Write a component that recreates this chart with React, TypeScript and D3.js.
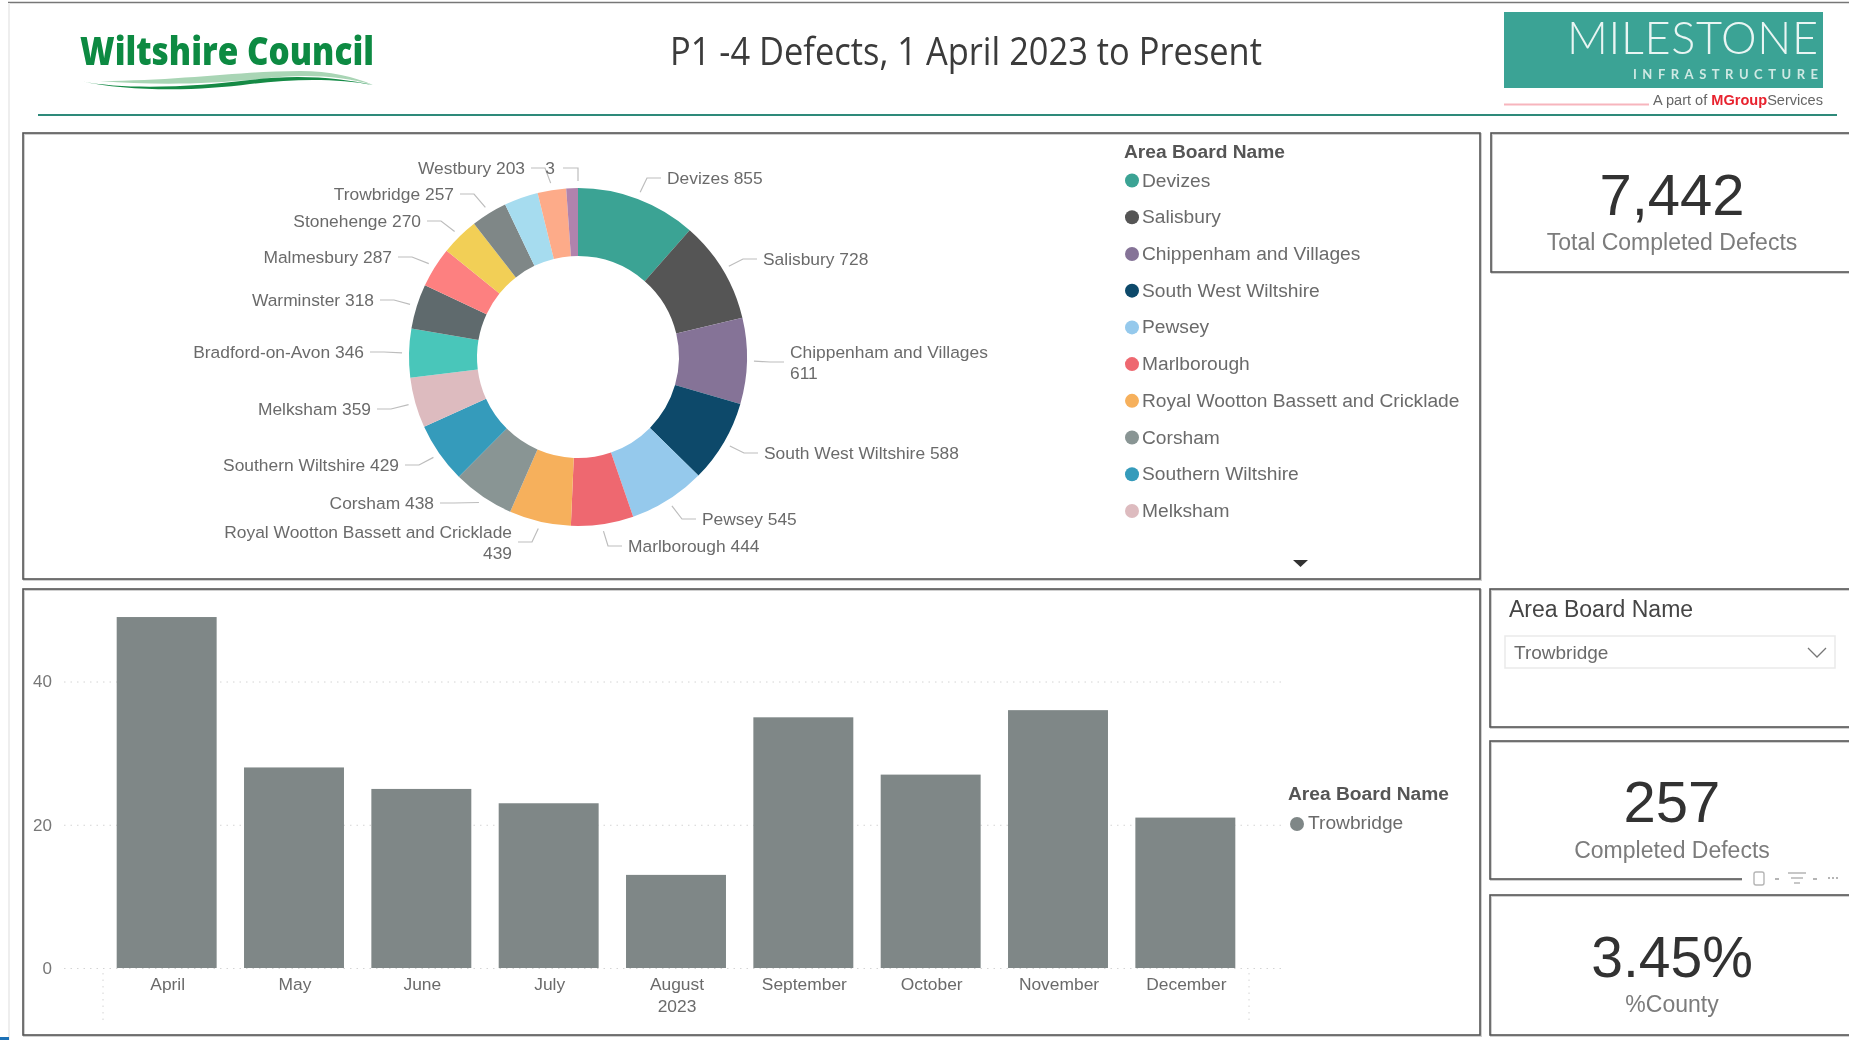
import React, { useEffect, useRef } from "react";
import { arc, axisBottom, axisLeft, line, pie, pointRadial, scaleBand, scaleLinear, scalePoint, select } from "d3";

const legendNames = [
  "Devizes", "Salisbury", "Chippenham and Villages", "South West Wiltshire", "Pewsey", "Marlborough",
  "Royal Wootton Bassett and Cricklade", "Corsham", "Southern Wiltshire", "Melksham",
];
const areaDefects = [855, 728, 611, 588, 545, 444, 439, 438, 429, 359, 346, 318, 287, 270, 257, 242, 203, 83];
const areaColors = [
  "#3aa394", "#555555", "#857397", "#0b4a6b", "#95c9ec", "#ee6870", "#f6b05c", "#899594", "#359bbb",
  "#ddbbbf", "#4ac6ba", "#5f6b6d", "#fd8080", "#f2cf56", "#7f8787", "#a6dcef", "#fdab89", "#b083ad",
];
// the light blue slice has no label in the picture, the purple one is cut down to "3"
const sliceLabels = [
  ["Devizes 855"], ["Salisbury 728"], ["Chippenham and Villages", "611"], ["South West Wiltshire 588"],
  ["Pewsey 545"], ["Marlborough 444"], ["Royal Wootton Bassett and Cricklade", "439"], ["Corsham 438"],
  ["Southern Wiltshire 429"], ["Melksham 359"], ["Bradford-on-Avon 346"], ["Warminster 318"],
  ["Malmesbury 287"], ["Stonehenge 270"], ["Trowbridge 257"], [], ["Westbury 203"], ["3"],
];

const months = ["April", "May", "June", "July", "August", "September", "October", "November", "December"];
const monthDefects = [49, 28, 25, 23, 13, 35, 27, 36, 21];
const yTicks = [0, 20, 40];

// where the donut labels sit: text x, line y
const labelSpots = [
  [667, 178], [763, 259], [790, 362], [764, 453], [702, 519], [628, 546], [512, 542], [434, 503], [399, 465],
  [371, 409], [364, 352], [374, 300], [392, 257], [421, 221], [454, 194], [0, 0], [525, 168], [555, 168],
];

const FONT = "'Liberation Sans', Arial, sans-serif";
const cx = 578;
const cy = 357;
const outerR = 169;
const innerR = 101;

function Panel({ x, y, w, h }: { x: number; y: number; w: number; h: number }) {
  return (
    <g fill="none">
      <rect x={x + 1} y={y + 1} width={w} height={h} stroke="#d0d0d0" strokeWidth={2} />
      <rect x={x} y={y} width={w} height={h} stroke="#555" strokeWidth={1.6} />
    </g>
  );
}

function Card({ value, label, y, labelY, size }: { value: string; label: string; y: number; labelY: number; size: number }) {
  return (
    <g textAnchor="middle">
      <text x={1672} y={y} fontSize={size} fill="#333">{value}</text>
      <text x={1672} y={labelY} fontSize={23} fill="#7b7b7b">{label}</text>
    </g>
  );
}

function App() {
  const donutRef = useRef<SVGGElement>(null);
  const barsRef = useRef<SVGGElement>(null);

  useEffect(() => {
    // donut
    const g = select(donutRef.current);
    g.selectAll("*").remove();
    const slices = pie<number>().sort(null)(areaDefects);
    const sliceArc = arc<any>().innerRadius(innerR).outerRadius(outerR);
    const chart = g.append("g").attr("transform", `translate(${cx},${cy})`);
    chart
      .selectAll("path")
      .data(slices)
      .join("path")
      .attr("d", sliceArc)
      .attr("fill", (_, i) => areaColors[i]);

    const leader = line();
    slices.forEach((s, i) => {
      const lines = sliceLabels[i];
      if (!lines.length) return;
      const last = i === slices.length - 1;
      const mid = last ? s.endAngle : (s.startAngle + s.endAngle) / 2;
      const [px, py] = pointRadial(mid, outerR + 7);
      const start: [number, number] = [px + cx, py + cy];
      const [tx, ty] = labelSpots[i];
      const right = mid < Math.PI && !last;
      const endX = right ? tx - 6 : tx + 6;
      const elbowX = right ? endX - 14 : endX + 14;
      let pts: [number, number][] = [start, [elbowX, ty], [endX, ty]];
      if (last) pts = [start, [start[0], ty], [tx + 8, ty]];
      g.append("path")
        .attr("d", leader(pts))
        .attr("fill", "none")
        .attr("stroke", "#bdbdbd")
        .attr("stroke-width", 1.2);
      const text = g
        .append("text")
        .attr("font-size", 17.4)
        .attr("fill", "#6b6b6b")
        .attr("text-anchor", right ? "start" : "end");
      lines.forEach((t, k) => {
        text
          .append("tspan")
          .attr("x", tx)
          .attr("y", ty + 6 + (k - (lines.length - 1) / 2) * 21)
          .text(t);
      });
    });

    // bars
    const b = select(barsRef.current);
    b.selectAll("*").remove();
    const x = scaleBand().domain(months).range([103, 1249]).paddingInner(0.215).paddingOuter(0.1075);
    const y = scaleLinear().domain([0, 40]).range([968, 681.5]);

    const yAxis = b
      .append("g")
      .attr("transform", "translate(64,0)")
      .call(axisLeft(y).tickValues(yTicks).tickSize(-1219).tickPadding(12).tickFormat((d) => String(d)));
    yAxis.select(".domain").remove();
    yAxis.selectAll("line").attr("stroke", "#d4d4d4").attr("stroke-dasharray", "1.5 5");
    yAxis.selectAll("text").attr("font-family", FONT).attr("font-size", 17).attr("fill", "#777");

    b.selectAll("rect")
      .data(monthDefects)
      .join("rect")
      .attr("x", (_, i) => x(months[i]))
      .attr("y", (d) => y(d))
      .attr("width", x.bandwidth())
      .attr("height", (d) => y(0) - y(d))
      .attr("fill", "#7f8787");

    const xAxis = b
      .append("g")
      .attr("transform", "translate(1,968)")
      .call(axisBottom(x).tickSize(0).tickPadding(10));
    xAxis.select(".domain").remove();
    xAxis.selectAll("text").attr("font-family", FONT).attr("font-size", 17.4).attr("fill", "#6b6b6b");

    // year group under the months, with its dotted separators
    b.append("text")
      .attr("x", (x("August") as number) + x.bandwidth() / 2 + 1)
      .attr("y", 1012)
      .attr("text-anchor", "middle")
      .attr("font-size", 17.4)
      .attr("fill", "#6b6b6b")
      .text("2023");
    b.selectAll(".sep")
      .data(x.range())
      .join("line")
      .attr("class", "sep")
      .attr("x1", (d) => d)
      .attr("x2", (d) => d)
      .attr("y1", 973)
      .attr("y2", 1020)
      .attr("stroke", "#d4d4d4")
      .attr("stroke-dasharray", "1.5 5");
  }, []);

  const legendY = scalePoint<number>()
    .domain(legendNames.map((_, i) => i))
    .range([180.5, 511]);

  return (
    <svg
      width={1849}
      height={1040}
      style={{ position: "absolute", left: 0, top: 0, display: "block", background: "#fff" }}
      fontFamily={FONT}
    >
      <defs>
        <filter id="soft" x="0" y="0" width="1849" height="1040" filterUnits="userSpaceOnUse">
          <feGaussianBlur stdDeviation="0.7" />
        </filter>
      </defs>
      <g filter="url(#soft)">
        <rect x={0} y={0} width={1849} height={1040} fill="#fff" />
        {/* page edges */}
        <line x1={8} y1={2.5} x2={1849} y2={2.5} stroke="#777" strokeWidth={1.5} />
        <line x1={9} y1={3} x2={9} y2={1040} stroke="#eee" strokeWidth={2} />
        <rect x={0} y={1037} width={9} height={3} fill="#1f6fb5" />

        {/* header */}
        <text x={80} y={65} fontFamily="'Open Sans'" fontWeight={800} fontSize={38} fill="#0b8a43" textLength={294} lengthAdjust="spacingAndGlyphs">
          Wiltshire Council
        </text>
        <path d="M100,81 C180,81 240,71 300,71 C330,71 355,77 373,85 C340,75 300,74 260,79 C200,85 150,85 100,81Z" fill="#a9d5b5" />
        <path d="M80,81 C130,91 200,86 250,80 C300,74 340,78 373,85 C340,79 300,78 250,84 C200,91 130,92 80,81Z" fill="#138a45" />
        <text x={670} y={65} fontFamily="'Open Sans'" fontSize={38} fill="#3a3a3a" textLength={592} lengthAdjust="spacingAndGlyphs">
          P1 -4 Defects, 1 April 2023 to Present
        </text>
        <rect x={1504} y={12} width={319} height={76} fill="#3ba395" />
        <text x={1567} y={54} fontFamily="Lato" fontWeight={300} fontSize={45} fill="#e9f5f3" textLength={251} lengthAdjust="spacing">
          MILESTONE
        </text>
        <text x={1633} y={79} fontFamily="Lato" fontWeight={700} fontSize={13} fill="#cfe9e4" textLength={185} lengthAdjust="spacing">
          INFRASTRUCTURE
        </text>
        <line x1={1504} y1={104.5} x2={1649} y2={104.5} stroke="#f7b5bd" strokeWidth={2} />
        <text x={1653} y={105} fontSize={14} fill="#666" textLength={170} lengthAdjust="spacingAndGlyphs">
          A part of <tspan fill="#e8232f" fontWeight={700}>MGroup</tspan>Services
        </text>
        <line x1={38} y1={115} x2={1837} y2={115} stroke="#2f8a7a" strokeWidth={2} />

        {/* panels */}
        <Panel x={23} y={133} w={1457} h={446} />
        <Panel x={23} y={589} w={1457} h={446} />
        <Panel x={1491} y={133} w={400} h={139} />
        <Panel x={1490} y={589} w={400} h={138} />
        <Panel x={1490} y={741} w={400} h={138} />
        <Panel x={1490} y={895} w={400} h={140} />
        {/* toolbar sits over the card's lower border */}
        <rect x={1742} y={872} width={107} height={16} fill="#fff" />
        <g stroke="#b5b5b5" strokeWidth={1.4} fill="none">
          <rect x={1754} y={872} width={10} height={13} rx={2} />
          <path d="M1788,873 H1806 M1791,878 H1803 M1794,883 H1800" />
        </g>
        <g fill="#b5b5b5">
          <rect x={1775} y={878} width={4} height={2} />
          <rect x={1813} y={878} width={4} height={2} />
          <rect x={1828} y={877} width={2} height={2} />
          <rect x={1832} y={877} width={2} height={2} />
          <rect x={1836} y={877} width={2} height={2} />
        </g>

        {/* donut */}
        <g ref={donutRef} />
        <text x={1124} y={158} fontSize={19.2} fontWeight={700} fill="#555">Area Board Name</text>
        {legendNames.map((name, i) => (
          <g key={name}>
            <circle cx={1132} cy={legendY(i)} r={7} fill={areaColors[i]} />
            <text x={1142} y={(legendY(i) as number) + 6} fontSize={19.2} fill="#6b6b6b">{name}</text>
          </g>
        ))}
        <path d="M1293,560 H1308 L1300.5,567Z" fill="#333" />

        {/* bars */}
        <g ref={barsRef} />
        <text x={1288} y={800} fontSize={19.2} fontWeight={700} fill="#555">Area Board Name</text>
        <circle cx={1297} cy={824} r={7} fill="#7f8787" />
        <text x={1308} y={829} fontSize={19.2} fill="#6b6b6b">Trowbridge</text>

        {/* cards */}
        <Card value="7,442" label="Total Completed Defects" y={215} labelY={250} size={58} />
        <Card value="257" label="Completed Defects" y={822} labelY={858} size={58} />
        <Card value="3.45%" label="%County" y={977} labelY={1012} size={57} />

        {/* slicer */}
        <text x={1509} y={617} fontSize={23} fill="#444">Area Board Name</text>
        <rect x={1505} y={636} width={330} height={32} fill="none" stroke="#eaeaea" strokeWidth={1.5} />
        <text x={1514} y={659} fontSize={19} fill="#6b6b6b">Trowbridge</text>
        <path d="M1808,648 L1817,657 L1826,648" fill="none" stroke="#777" strokeWidth={1.3} />
      </g>
    </svg>
  );
}

export default App;
